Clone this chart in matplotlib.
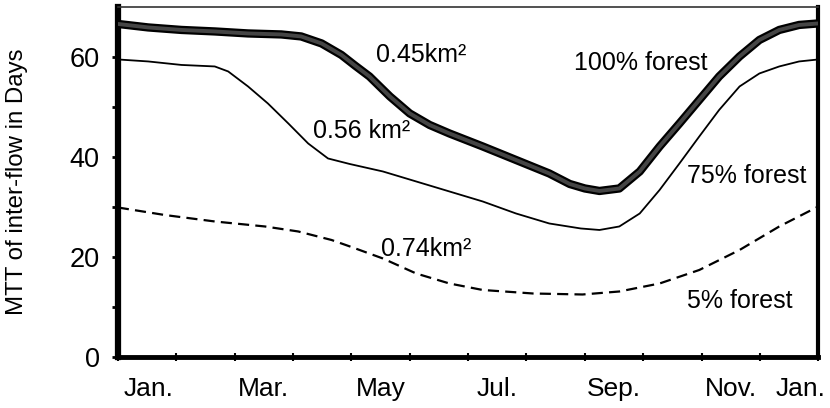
import matplotlib
matplotlib.use("Agg")
import matplotlib.pyplot as plt

# month axis: 0 = start of Jan., 12 = start of next Jan.
forest100_x = [0.0, 0.52, 1.09, 1.66, 2.23, 2.80, 3.14, 3.49, 3.83, 4.06, 4.31, 4.66, 5.0, 5.34, 5.68,
               6.25, 6.82, 7.39, 7.74, 8.0, 8.25, 8.59, 8.94, 9.28, 9.62, 9.96, 10.30, 10.65, 10.99,
               11.33, 11.67, 12.0]
forest100_y = [66.6, 65.9, 65.4, 65.1, 64.7, 64.5, 64.1, 62.7, 60.4, 58.3, 56.1, 52.1, 48.7, 46.4, 44.7,
               42.1, 39.4, 36.7, 34.6, 33.7, 33.2, 33.7, 37.1, 42.1, 46.7, 51.4, 56.1, 60.1, 63.4,
               65.4, 66.4, 66.7]

forest75_x = [0.0, 0.52, 1.09, 1.66, 1.89, 2.23, 2.57, 2.92, 3.26, 3.60, 3.97, 4.54, 5.11, 5.68, 6.25,
              6.82, 7.39, 7.93, 8.25, 8.59, 8.94, 9.28, 9.62, 9.96, 10.30, 10.65, 10.99, 11.33,
              11.67, 12.0]
forest75_y = [59.5, 59.1, 58.4, 58.1, 57.1, 54.1, 50.7, 46.7, 42.7, 39.7, 38.6, 37.1, 35.1, 33.1, 31.1,
              28.7, 26.7, 25.7, 25.4, 26.1, 28.7, 33.4, 38.7, 44.1, 49.4, 54.1, 56.7, 58.1,
              59.1, 59.5]

forest5_x = [0.0, 0.80, 1.66, 2.52, 3.09, 3.66, 4.0, 4.54, 5.11, 5.68, 6.25, 7.11, 7.96, 8.59, 9.28,
             9.96, 10.65, 11.33, 12.0]
forest5_y = [29.9, 28.4, 27.1, 26.1, 25.1, 23.4, 22.0, 19.7, 16.7, 14.7, 13.4, 12.7, 12.5, 13.1, 14.7,
             17.4, 21.4, 26.1, 30.1]

month_labels = ["Jan.", "Mar.", "May", "Jul.", "Sep.", "Nov.", "Jan."]
month_label_pos = [0.53, 2.5, 4.5, 6.5, 8.5, 10.5, 11.69]

plt.rcParams["font.family"] = ["Liberation Sans", "DejaVu Sans"]

fig = plt.figure(figsize=(8.3, 4.08), dpi=100)
ax = fig.add_axes([0.142, 0.125, 0.844, 0.858])

# thick banded line for 100% forest
ax.plot(forest100_x, forest100_y, color="black", lw=6, solid_capstyle="butt",
        solid_joinstyle="round", zorder=3)
ax.plot(forest100_x, forest100_y, color="#454545", lw=2.8, solid_capstyle="butt",
        solid_joinstyle="round", zorder=4)
ax.plot(forest75_x, forest75_y, color="black", lw=1.3, zorder=3)
ax.plot(forest5_x, forest5_y, color="black", lw=1.6, ls=(0, (5, 2.8)), zorder=3)

ax.set_xlim(0, 12)
ax.set_ylim(0, 70)

ax.set_yticks([0, 20, 40, 60])
ax.set_yticks([10, 30, 50], minor=True)
ax.set_xticks(range(13))
ax.set_xticklabels([])
ax.tick_params(axis="y", which="both", direction="out", length=4, width=2, labelsize=19.5, pad=9)
ax.tick_params(axis="x", which="major", direction="inout", length=6, width=1.5)

for pos, lab in zip(month_label_pos, month_labels):
    ax.text(pos, -4.0, lab, ha="center", va="top", fontsize=19)

ax.set_ylabel("MTT of inter-flow in Days", fontsize=17.3, labelpad=30)

for side, w in [("left", 4.5), ("bottom", 3.5), ("right", 3), ("top", 1.2)]:
    ax.spines[side].set_linewidth(w)
ax.spines["top"].set_color("#333333")

notes = [
    (5.19, 60.4, "0.45km²"),
    (4.18, 45.1, "0.56 km²"),
    (5.29, 21.5, "0.74km²"),
    (8.95, 58.8, "100% forest"),
    (10.78, 36.1, "75% forest"),
    (10.65, 11.2, "5% forest"),
]
for x, y, s in notes:
    ax.text(x, y, s, ha="center", va="center", fontsize=18)

fig.savefig("out.png", dpi=100)
